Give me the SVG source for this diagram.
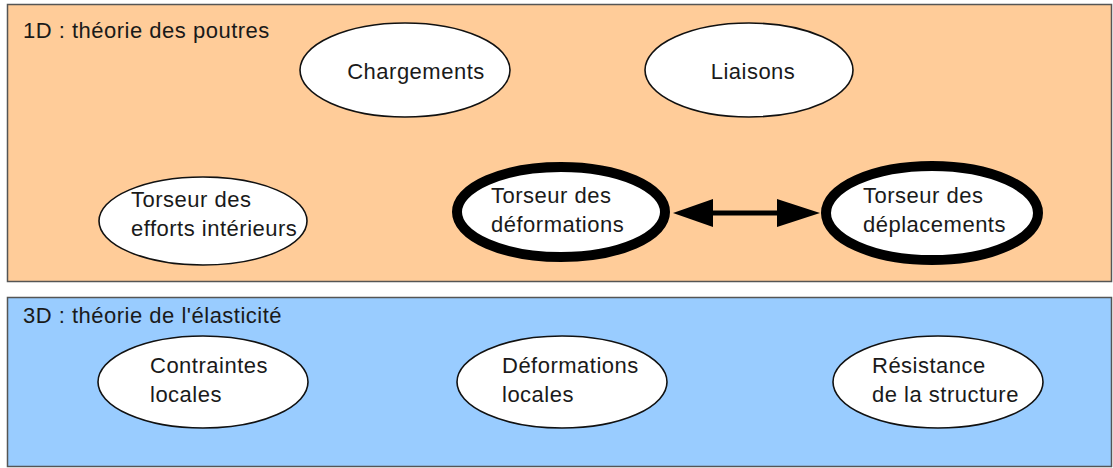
<svg xmlns="http://www.w3.org/2000/svg" width="1113" height="468" viewBox="0 0 1113 468">
<style>
.t{font-family:"Liberation Sans",Arial,sans-serif;font-size:22px;letter-spacing:0.5px;fill:#1a1a1a}
.n{fill:#fff;stroke:#111;stroke-width:1.6}
.b{fill:#fff;stroke:#000;stroke-width:10}
</style>
<defs>
<marker id="ah" viewBox="0 0 10 10" refX="10" refY="5" markerWidth="10" markerHeight="10" markerUnits="userSpaceOnUse" orient="auto-start-reverse">
<path d="M0,0 L10,5 L0,10 z" fill="#000"/>
</marker>
</defs>
<g id="zone1D">
<rect x="7.5" y="4.5" width="1104" height="277" fill="#FFCC99" stroke="#555" stroke-width="1.5"/>
<text class="t" x="23" y="38">1D : théorie des poutres</text>
</g>
<g id="zone3D">
<rect x="7.5" y="297.5" width="1104" height="169" fill="#99CCFF" stroke="#555" stroke-width="1.5"/>
<text class="t" x="23" y="323">3D : théorie de l'élasticité</text>
</g>
<g id="chargements">
<ellipse class="n" cx="405" cy="70" rx="105" ry="47"/>
<text class="t" x="416" y="79" text-anchor="middle">Chargements</text>
</g>
<g id="liaisons">
<ellipse class="n" cx="749" cy="70" rx="104" ry="47"/>
<text class="t" x="753" y="79" text-anchor="middle">Liaisons</text>
</g>
<g id="efforts">
<ellipse class="n" cx="203" cy="221" rx="104" ry="44"/>
<text class="t" x="131" y="207">Torseur des</text>
<text class="t" x="131" y="236">efforts intérieurs</text>
</g>
<g id="deformations">
<ellipse class="b" cx="561" cy="212" rx="104" ry="45"/>
<text class="t" x="491" y="203">Torseur des</text>
<text class="t" x="491" y="232">déformations</text>
</g>
<g id="deplacements">
<ellipse class="b" cx="932" cy="213" rx="106" ry="47"/>
<text class="t" x="863" y="203">Torseur des</text>
<text class="t" x="863" y="232">déplacements</text>
</g>
<g id="contraintes">
<ellipse class="n" cx="203" cy="382" rx="105" ry="46"/>
<text class="t" x="150" y="373">Contraintes</text>
<text class="t" x="150" y="402">locales</text>
</g>
<g id="deflocales">
<ellipse class="n" cx="562" cy="382" rx="105" ry="46"/>
<text class="t" x="502" y="373">Déformations</text>
<text class="t" x="502" y="402">locales</text>
</g>
<g id="resistance">
<ellipse class="n" cx="938" cy="382" rx="105" ry="46"/>
<text class="t" x="872" y="373">Résistance</text>
<text class="t" x="872" y="402">de la structure</text>
</g>
<g id="connectors">
<line x1="713" y1="213" x2="777" y2="213" stroke="#000" stroke-width="5"/>
<path d="M673,213 L713,199 L713,227 z" fill="#000"/>
<path d="M820,213 L777,199 L777,227 z" fill="#000"/>
</g>
</svg>
